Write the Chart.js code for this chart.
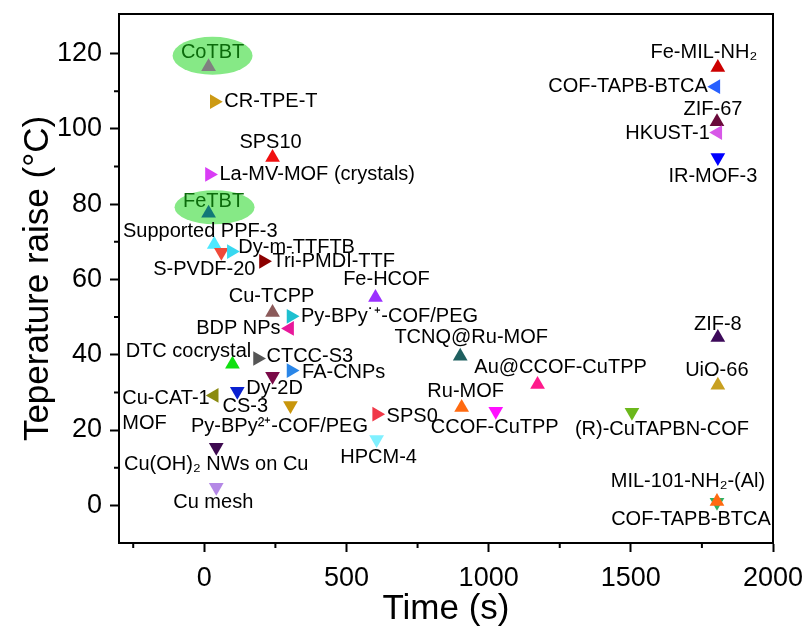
<!DOCTYPE html>
<html>
<head>
<meta charset="utf-8">
<script src="https://cdn.jsdelivr.net/npm/chart.js@4.4.1/dist/chart.umd.min.js"></script>
<style>
  html, body { margin: 0; padding: 0; background: #fff; }
  canvas { display: block; }
</style>
</head>
<body>
<canvas id="chart" width="811" height="632"></canvas>
<script>
// Materials, heating time (s) and temperature raise (°C)
const names = [
  'CoTBT', 'CR-TPE-T', 'SPS10', 'La-MV-MOF (crystals)', 'FeTBT',
  'Supported PPF-3', 'S-PVDF-20', 'Dy-m-TTFTB', 'Tri-PMDI-TTF', 'Cu-TCPP',
  'Py-BPy\u02D9\u207A-COF/PEG', 'BDP NPs', 'Fe-HCOF', 'DTC cocrystal', 'CTCC-S3',
  'TCNQ@Ru-MOF', 'FA-CNPs', 'Dy-2D', 'CS-3', 'Cu-CAT-1\nMOF',
  'Py-BPy\u00B2\u207A-COF/PEG', 'Cu(OH)\u2082 NWs on Cu', 'Cu mesh', 'SPS0', 'HPCM-4',
  'Ru-MOF', 'CCOF-CuTPP', 'Au@CCOF-CuTPP', '(R)-CuTAPBN-COF', 'ZIF-8',
  'UiO-66', 'COF-TAPB-BTCA', 'MIL-101-NH\u2082-(Al)', 'Fe-MIL-NH\u2082', 'COF-TAPB-BTCA',
  'ZIF-67', 'HKUST-1', 'IR-MOF-3'
];
const timeS = [
  15, 35, 240, 18, 15,
  35, 60, 95, 208, 240,
  305, 300, 602, 99, 187,
  900, 305, 240, 116, 35,
  303, 42, 42, 606, 606,
  905, 1025, 1172, 1504, 1806,
  1806, 1803, 1803, 1806, 1799,
  1803, 1806, 1806
];
const tempRise = [
  116.5, 107.2, 92.4, 87.9, 77.6,
  69.3, 67.2, 67.4, 64.8, 51.2,
  50.2, 47.0, 55.2, 37.5, 39.0,
  39.6, 35.8, 34.3, 30.3, 29.2,
  26.5, 15.4, 4.8, 24.2, 17.5,
  26.0, 25.0, 32.1, 24.7, 44.6,
  31.9, 0.8, 1.0, 116.3, 111.2,
  101.9, 99.0, 92.4
];
const xTicks = [0, 500, 1000, 1500, 2000];
const yTicks = [0, 20, 40, 60, 80, 100, 120];
const xMinor = [-250, 250, 750, 1250, 1750];
const yMinor = [10, 30, 50, 70, 90, 110];

// marker look
const markerDir = [
  'up', 'right', 'up', 'right', 'up',
  'up', 'down', 'right', 'right', 'up',
  'right', 'left', 'up', 'up', 'right',
  'up', 'right', 'down', 'down', 'left',
  'down', 'down', 'down', 'right', 'down',
  'up', 'down', 'up', 'down', 'up',
  'up', 'down', 'up', 'up', 'left',
  'up', 'left', 'down'
];
const markerColor = [
  '#808080', '#cc9a14', '#f01010', '#d93cf5', '#127878',
  '#4de8ff', '#f04a3a', '#38d8f0', '#8b0000', '#8b5a5a',
  '#1ec0d0', '#e8189a', '#9b30ff', '#10e010', '#555555',
  '#1f6060', '#2a86e8', '#7a0a48', '#0a20d0', '#8a8a10',
  '#c8960c', '#3d0a50', '#b488e6', '#f03848', '#80f0ff',
  '#ff6a10', '#ff10ff', '#ff1a8c', '#6cb81c', '#3d0a5a',
  '#c8a020', '#30b060', '#ff6a10', '#cc0000', '#2860ff',
  '#6a0a3a', '#d858e8', '#0000ff'
];
// label offsets from the marker in px: [dx, dy, align]
const labelPlace = [
  [4, -14, 'center'], [10, 0, 'left'], [-2, -15, 'center'], [10, 0, 'left'], [5, -12, 'center'],
  [-14, -13, 'center'], [-17, 17, 'center'], [7, -4, 'left'], [9, 0, 'left'], [-1, -16, 'center'],
  [10, 0, 'left'], [-9, 0, 'right'], [11, -18, 'center'], [-44, -13, 'center'], [9, -2, 'left'],
  [11, -19, 'center'], [11, 2, 'left'], [2, 12, 'center'], [8, 15, 'center'], [-92, 3, 'left'],
  [-11, 21, 'center'], [0, 17, 'center'], [-3, 15, 'center'], [10, 2, 'left'], [2, 18, 'center'],
  [4, -16, 'center'], [-1, 16, 'center'], [23, -17, 'center'], [30, 17, 'center'], [0, -13, 'center'],
  [-1, -15, 'center'], [-26, 17, 'center'], [-29, -20, 'center'], [-14, -15, 'center'], [-8, 0, 'right'],
  [-4, -12, 'center'], [-8, 1, 'right'], [-5, 19, 'center']
];
const highlight = [
  { name: 'CoTBT', dx: 4, dy: -11, rx: 40, ry: 19 },
  { name: 'FeTBT', dx: 6, dy: -6, rx: 40, ry: 17 }
];

const FONT = "'Liberation Sans', Arial, sans-serif";
const rotationFor = { up: 0, right: 90, down: 180, left: -90 };

const points = timeS.map((t, i) => ({ x: t, y: tempRise[i] }));

const extras = {
  id: 'extras',
  beforeDatasetsDraw(chart) {
    const { ctx, scales: { x, y } } = chart;
    ctx.save();
    ctx.fillStyle = '#86e986';
    highlight.forEach(h => {
      const i = names.indexOf(h.name);
      const px = x.getPixelForValue(timeS[i]) + h.dx;
      const py = y.getPixelForValue(tempRise[i]) + h.dy;
      ctx.beginPath();
      ctx.ellipse(px, py, h.rx, h.ry, 0, 0, Math.PI * 2);
      ctx.fill();
    });
    ctx.restore();
  },
  afterDatasetsDraw(chart) {
    const { ctx, scales: { x, y } } = chart;
    ctx.save();
    ctx.font = '20px ' + FONT;
    ctx.textBaseline = 'middle';
    names.forEach((name, i) => {
      const [dx, dy, align] = labelPlace[i];
      const px = x.getPixelForValue(timeS[i]) + dx;
      const py = y.getPixelForValue(tempRise[i]) + dy;
      ctx.textAlign = align;
      ctx.fillStyle = (name === 'CoTBT' || name === 'FeTBT') ? '#0b6b0b' : '#000';
      name.split('\n').forEach((line, k) => ctx.fillText(line, px, py + k * 25));
    });
    ctx.restore();
  },
  afterDraw(chart) {
    const { ctx, chartArea: a, scales: { x, y } } = chart;
    ctx.save();
    ctx.strokeStyle = '#000';
    ctx.lineWidth = 2;
    ctx.beginPath();
    // top and right frame
    ctx.moveTo(a.left, a.top);
    ctx.lineTo(a.right, a.top);
    ctx.lineTo(a.right, a.bottom);
    // minor ticks
    xMinor.forEach(v => {
      const px = x.getPixelForValue(v);
      ctx.moveTo(px, a.bottom);
      ctx.lineTo(px, a.bottom + 5);
    });
    yMinor.forEach(v => {
      const py = y.getPixelForValue(v);
      ctx.moveTo(a.left, py);
      ctx.lineTo(a.left - 5, py);
    });
    ctx.stroke();
    ctx.restore();
  }
};

new Chart(document.getElementById('chart'), {
  type: 'scatter',
  data: {
    datasets: [{
      data: points,
      pointStyle: 'triangle',
      pointRadius: 8.5,
      pointHoverRadius: 8.5,
      pointBorderWidth: 0,
      pointBackgroundColor: markerColor,
      pointRotation: markerDir.map(d => rotationFor[d])
    }]
  },
  options: {
    responsive: false,
    animation: false,
    layout: { padding: { left: 0, right: 38, top: 14, bottom: 0 } },
    plugins: {
      legend: { display: false },
      tooltip: { enabled: false }
    },
    scales: {
      x: {
        type: 'linear',
        min: -300,
        max: 2000,
        afterBuildTicks: s => { s.ticks = xTicks.map(v => ({ value: v })); },
        afterFit: s => { s.height = 89; s.paddingLeft = 0; s.paddingRight = 0; },
        grid: { drawOnChartArea: false, tickLength: 9, tickWidth: 2, tickColor: '#000' },
        border: { color: '#000', width: 2 },
        ticks: {
          color: '#000', padding: 10, maxRotation: 0,
          font: { size: 27, family: FONT },
          callback: v => String(v)
        },
        title: {
          display: true, text: 'Time (s)', color: '#000',
          font: { size: 35, family: FONT }, padding: { top: 0, bottom: 2 }
        }
      },
      y: {
        type: 'linear',
        min: -10,
        max: 130.5,
        afterBuildTicks: s => { s.ticks = yTicks.map(v => ({ value: v })); },
        afterFit: s => { s.width = 119; s.paddingTop = 0; s.paddingBottom = 0; },
        grid: { drawOnChartArea: false, tickLength: 9, tickWidth: 2, tickColor: '#000' },
        border: { color: '#000', width: 2 },
        ticks: {
          color: '#000', padding: 8,
          font: { size: 27, family: FONT },
          callback: v => String(v)
        },
        title: {
          display: true, text: 'Teperature raise (\u00B0C)', color: '#000',
          font: { size: 35, family: FONT }, padding: { top: 17, bottom: 0 }
        }
      }
    }
  },
  plugins: [extras]
});
</script>
</body>
</html>
